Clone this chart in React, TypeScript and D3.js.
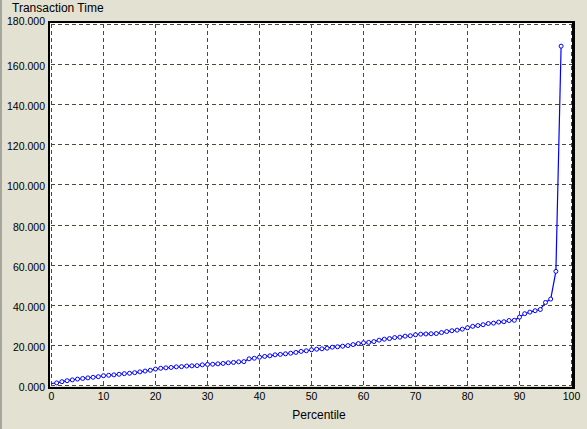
import React from "react";
import * as d3 from "d3";

// percentile (x) and transaction time (y)
const percentiles = [
  0, 1, 2, 3, 4, 5, 6, 7, 8, 9, 10, 11, 12, 13, 14, 15, 16, 17, 18, 19,
  20, 21, 22, 23, 24, 25, 26, 27, 28, 29, 30, 31, 32, 33, 34, 35, 36, 37, 38, 39,
  40, 41, 42, 43, 44, 45, 46, 47, 48, 49, 50, 51, 52, 53, 54, 55, 56, 57, 58, 59,
  60, 61, 62, 63, 64, 65, 66, 67, 68, 69, 70, 71, 72, 73, 74, 75, 76, 77, 78, 79,
  80, 81, 82, 83, 84, 85, 86, 87, 88, 89, 90, 91, 92, 93, 94, 95, 96, 97, 98,
];
const times = [
  1.0, 1.3, 1.9, 2.4, 2.8, 3.2, 3.5, 3.8, 4.1, 4.4, 4.9, 5.1, 5.3, 5.6, 5.9, 6.1, 6.4, 6.8, 7.2, 7.6,
  8.2, 8.6, 8.8, 9.0, 9.3, 9.4, 9.7, 9.8, 9.9, 10.3, 10.5, 10.6, 10.8, 11.0, 11.3, 11.5, 11.8, 11.9, 13.3, 13.6,
  14.1, 14.5, 14.8, 15.3, 15.5, 15.8, 16.1, 16.5, 17.0, 17.3, 17.8, 18.1, 18.3, 18.6, 19.1, 19.3, 19.6, 19.9, 20.4, 20.9,
  21.3, 21.5, 21.9, 22.6, 23.1, 23.4, 23.9, 24.1, 24.6, 24.8, 25.3, 25.6, 25.7, 25.8, 25.9, 26.4, 26.9, 27.3, 27.6, 28.1,
  28.8, 29.5, 29.9, 30.3, 30.9, 31.1, 31.6, 31.8, 32.4, 32.5, 34.1, 35.8, 36.6, 37.3, 37.9, 41.4, 43.1, 56.9, 169.2,
];
const xTicks = [0, 10, 20, 30, 40, 50, 60, 70, 80, 90, 100];
const yTicks = [0, 20, 40, 60, 80, 100, 120, 140, 160, 180];

const width = 587;
const height = 429;
const font = "'Liberation Sans', Arial, sans-serif";

const App = () => {
  const x = d3.scaleLinear().domain([0, 100]).range([51, 571]);
  const y = d3.scaleLinear().domain([0, 180]).range([385, 24]);
  const fmt = d3.format(".3f");

  const points = percentiles.map((p, i) => ({ p, v: times[i] }));
  const line = d3
    .line<{ p: number; v: number }>()
    .x((d) => x(d.p))
    .y((d) => y(d.v));

  const left = x(0);
  const right = x(100);
  const top = y(180);
  const bottom = y(0);

  return (
    <svg
      width={width}
      height={height}
      style={{ position: "absolute", left: 0, top: 0, display: "block" }}
    >
      <rect x={0} y={0} width={width} height={height} fill="#e3e1d1" />
      <rect x={0} y={0} width={2} height={height} fill="#a7a69c" />

      <text x={12} y={12} fontFamily={font} fontSize={12} fill="#000">
        Transaction Time
      </text>

      {/* plot area */}
      <rect x={left - 1} y={top - 1} width={right - left + 2} height={bottom - top + 2} fill="#fff" />

      {/* dashed grid */}
      <g stroke="#4c4a36" strokeDasharray="4,3" shapeRendering="crispEdges">
        {xTicks.map((t) => (
          <line key={"gx" + t} x1={x(t) + 0.5} x2={x(t) + 0.5} y1={top} y2={bottom + 1} />
        ))}
        {yTicks.map((t) => (
          <line key={"gy" + t} x1={left} x2={right + 1} y1={y(t) + 0.5} y2={y(t) + 0.5} />
        ))}
      </g>

      {/* series */}
      <path
        d={line(points) ?? ""}
        fill="none"
        stroke="#0000ff"
        strokeWidth={1.2}
        transform="translate(0.5,0.5)"
      />
      <g fill="#fff" stroke="#0000ff" strokeWidth={1}>
        {points
          .filter((d) => d.p > 0)
          .map((d) => (
            <circle key={d.p} cx={x(d.p) + 0.5} cy={y(d.v) + 0.5} r={2} />
          ))}
      </g>

      {/* frame */}
      <g fill="#000" shapeRendering="crispEdges">
        <rect x={left - 3} y={top - 3} width={2} height={bottom - top + 7} />
        <rect x={left - 3} y={top - 3} width={right - left + 7} height={2} />
        <rect x={right + 1} y={top - 3} width={3} height={bottom - top + 7} />
        <rect x={left - 3} y={bottom + 2} width={right - left + 7} height={2} />
      </g>

      {/* y labels */}
      <g fontFamily={font} fontSize={10.5} fill="#000" textAnchor="end">
        {yTicks.map((t, i) => (
          <text
            key={"ly" + t}
            x={45}
            y={i === yTicks.length - 1 ? y(t) + 0.5 : y(t) + 6}
          >
            {fmt(t)}
          </text>
        ))}
      </g>

      {/* x labels */}
      <g fontFamily={font} fontSize={10.5} fill="#000" textAnchor="middle">
        {xTicks.map((t) => (
          <text key={"lx" + t} x={x(t) + 0.5} y={400}>
            {t}
          </text>
        ))}
      </g>

      <text x={319} y={419} fontFamily={font} fontSize={12} fill="#000" textAnchor="middle">
        Percentile
      </text>
    </svg>
  );
};

export default App;
